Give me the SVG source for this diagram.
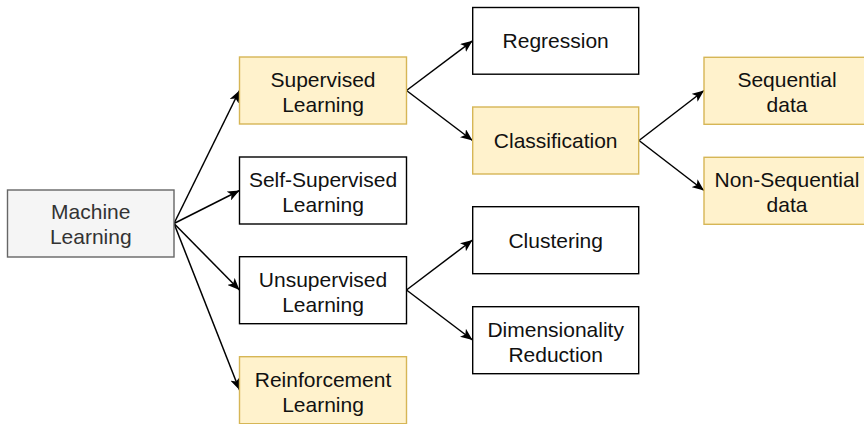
<svg xmlns="http://www.w3.org/2000/svg" width="864" height="424" viewBox="0 0 864 424">
<style>
.box{stroke-width:1.4}
.w{fill:#ffffff;stroke:#000000}
.y{fill:#fff2cc;stroke:#d6b656}
.g{fill:#f5f5f5;stroke:#666666}
text{font-family:"Liberation Sans",Arial,Helvetica,sans-serif;font-size:21px;text-anchor:middle;fill:#111111}
.gt{fill:#333333}
.edge{fill:none;stroke:#000000;stroke-width:1.5;marker-end:url(#arr)}
</style>
<defs>
<marker id="arr" markerUnits="userSpaceOnUse" viewBox="0 0 12 10" refX="12" refY="5" markerWidth="12" markerHeight="10" orient="auto">
<path d="M0,0 L12,5 L0,10 L3,5 Z" fill="#000000"/>
</marker>
</defs>
<rect width="864" height="424" fill="#ffffff"/>
<g id="connectors">
<path class="edge" d="M174,223.5 L239.5,90.5"/>
<path class="edge" d="M174,223.5 L239.5,190.5"/>
<path class="edge" d="M174,223.5 L239.5,290"/>
<path class="edge" d="M174,223.5 L239.5,390"/>
<path class="edge" d="M406.5,90.5 L472.5,40.8"/>
<path class="edge" d="M406.5,90.5 L472.5,140.5"/>
<path class="edge" d="M639,140.5 L704,90.5"/>
<path class="edge" d="M639,140.5 L704,190.5"/>
<path class="edge" d="M406.5,290 L472.5,240"/>
<path class="edge" d="M406.5,290 L472.5,340"/>
</g>
<g id="machine-learning">
<rect class="box g" x="7.5" y="190" width="166.5" height="67"/>
<text class="gt" x="90.75" y="219.3">Machine</text>
<text class="gt" x="90.75" y="244.3">Learning</text>
</g>
<g id="supervised">
<rect class="box y" x="239.5" y="57" width="167" height="67"/>
<text x="323" y="87">Supervised</text>
<text x="323" y="112">Learning</text>
</g>
<g id="self-supervised">
<rect class="box w" x="239.5" y="157" width="167" height="67"/>
<text x="323" y="187">Self-Supervised</text>
<text x="323" y="212">Learning</text>
</g>
<g id="unsupervised">
<rect class="box w" x="239.5" y="256.7" width="167" height="67"/>
<text x="323" y="286.5">Unsupervised</text>
<text x="323" y="311.5">Learning</text>
</g>
<g id="reinforcement">
<rect class="box y" x="239.5" y="356.7" width="167" height="67"/>
<text x="323" y="386.5">Reinforcement</text>
<text x="323" y="411.5">Learning</text>
</g>
<g id="regression">
<rect class="box w" x="472.7" y="7.5" width="166" height="66.7"/>
<text x="555.7" y="48.3">Regression</text>
</g>
<g id="classification">
<rect class="box y" x="472.7" y="107" width="166" height="67"/>
<text x="555.7" y="148.3">Classification</text>
</g>
<g id="clustering">
<rect class="box w" x="472.7" y="206.7" width="166" height="67"/>
<text x="555.7" y="248">Clustering</text>
</g>
<g id="dimensionality-reduction">
<rect class="box w" x="472.7" y="306.7" width="166" height="67"/>
<text x="555.7" y="336.5">Dimensionality</text>
<text x="555.7" y="361.5">Reduction</text>
</g>
<g id="sequential">
<rect class="box y" x="704" y="57.3" width="166" height="67"/>
<text x="787" y="87">Sequential</text>
<text x="787" y="112">data</text>
</g>
<g id="non-sequential">
<rect class="box y" x="704" y="157.3" width="166" height="67"/>
<text x="787" y="187">Non-Sequential</text>
<text x="787" y="212">data</text>
</g>
</svg>
